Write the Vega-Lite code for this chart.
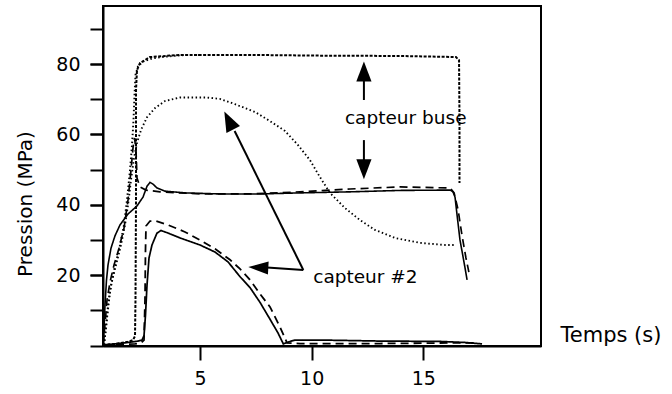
{
  "$schema": "https://vega.github.io/schema/vega-lite/v6.json",
  "width": 438,
  "height": 340,
  "autosize": {"type": "none"},
  "padding": {"left": 103, "top": 6, "right": 131, "bottom": 48},
  "background": "white",
  "config": {
    "font": "DejaVu Sans",
    "view": {"stroke": "black", "strokeWidth": 2},
    "axis": {"grid": false, "domainColor": "black", "domainWidth": 2, "tickColor": "black", "tickWidth": 2, "labelColor": "black", "titleColor": "black", "labelFontSize": 19, "titleFontSize": 20, "titleFontWeight": "normal", "labelFlush": false, "labelOverlap": false}
  },
  "resolve": {"axis": {"y": "independent"}},
  "datasets": {
    "curves": [
      {"s":"buse_trait","o":1,"t":0.656,"p":0.2},{"s":"buse_trait","o":2,"t":0.70,"p":4.5},{"s":"buse_trait","o":3,"t":0.746,"p":11.6},{"s":"buse_trait","o":4,"t":0.813,"p":18.7},{"s":"buse_trait","o":5,"t":0.88,"p":22.9},{"s":"buse_trait","o":6,"t":1.014,"p":27.7},{"s":"buse_trait","o":7,"t":1.193,"p":31.2},{"s":"buse_trait","o":8,"t":1.417,"p":34.3},{"s":"buse_trait","o":9,"t":1.776,"p":37.4},{"s":"buse_trait","o":10,"t":2.179,"p":39.7},{"s":"buse_trait","o":11,"t":2.447,"p":42.2},{"s":"buse_trait","o":12,"t":2.627,"p":45.3},{"s":"buse_trait","o":13,"t":2.761,"p":46.4},{"s":"buse_trait","o":14,"t":2.895,"p":45.9},{"s":"buse_trait","o":15,"t":3.074,"p":44.8},{"s":"buse_trait","o":16,"t":3.432,"p":43.9},{"s":"buse_trait","o":17,"t":4.328,"p":43.4},{"s":"buse_trait","o":18,"t":5.895,"p":43.1},{"s":"buse_trait","o":19,"t":7.686,"p":43.1},{"s":"buse_trait","o":20,"t":9.478,"p":43.4},{"s":"buse_trait","o":21,"t":11.72,"p":43.7},{"s":"buse_trait","o":22,"t":13.96,"p":44.1},{"s":"buse_trait","o":23,"t":16.2,"p":44.2},{"s":"buse_trait","o":24,"t":16.33,"p":43.7},{"s":"buse_trait","o":25,"t":16.42,"p":42.2},{"s":"buse_trait","o":26,"t":16.51,"p":37.2},{"s":"buse_trait","o":27,"t":16.64,"p":30.1},{"s":"buse_trait","o":28,"t":16.82,"p":23.8},{"s":"buse_trait","o":29,"t":16.96,"p":18.7},

      {"s":"buse_tirets","o":1,"t":0.656,"p":0.2},{"s":"buse_tirets","o":2,"t":0.746,"p":5.9},{"s":"buse_tirets","o":3,"t":0.836,"p":13.0},{"s":"buse_tirets","o":4,"t":0.97,"p":18.1},{"s":"buse_tirets","o":5,"t":1.149,"p":22.9},{"s":"buse_tirets","o":6,"t":1.373,"p":27.7},{"s":"buse_tirets","o":7,"t":1.597,"p":33.4},{"s":"buse_tirets","o":8,"t":1.776,"p":41.4},{"s":"buse_tirets","o":9,"t":1.911,"p":49.9},{"s":"buse_tirets","o":10,"t":2.0,"p":56.2},{"s":"buse_tirets","o":11,"t":2.067,"p":59.0},{"s":"buse_tirets","o":12,"t":2.134,"p":55.6},{"s":"buse_tirets","o":13,"t":2.179,"p":47.6},{"s":"buse_tirets","o":14,"t":2.313,"p":45.1},{"s":"buse_tirets","o":15,"t":2.582,"p":44.2},{"s":"buse_tirets","o":16,"t":3.209,"p":43.7},{"s":"buse_tirets","o":17,"t":5.0,"p":43.1},{"s":"buse_tirets","o":18,"t":7.24,"p":43.1},{"s":"buse_tirets","o":19,"t":9.478,"p":43.7},{"s":"buse_tirets","o":20,"t":11.72,"p":44.5},{"s":"buse_tirets","o":21,"t":13.96,"p":45.1},{"s":"buse_tirets","o":22,"t":16.2,"p":44.8},{"s":"buse_tirets","o":23,"t":16.38,"p":43.4},{"s":"buse_tirets","o":24,"t":16.56,"p":38.5},{"s":"buse_tirets","o":25,"t":16.73,"p":31.4},{"s":"buse_tirets","o":26,"t":16.91,"p":24.9},{"s":"buse_tirets","o":27,"t":17.04,"p":20.9},

      {"s":"c2_trait","o":1,"t":0.656,"p":0.2},{"s":"c2_trait","o":2,"t":1.193,"p":0.5},{"s":"c2_trait","o":3,"t":1.776,"p":0.9},{"s":"c2_trait","o":4,"t":2.224,"p":1.3},{"s":"c2_trait","o":5,"t":2.403,"p":1.6},{"s":"c2_trait","o":6,"t":2.492,"p":2.8},{"s":"c2_trait","o":7,"t":2.559,"p":8.7},{"s":"c2_trait","o":8,"t":2.627,"p":17.2},{"s":"c2_trait","o":9,"t":2.716,"p":24.9},{"s":"c2_trait","o":10,"t":2.85,"p":28.6},{"s":"c2_trait","o":11,"t":3.074,"p":32.0},{"s":"c2_trait","o":12,"t":3.253,"p":32.7},{"s":"c2_trait","o":13,"t":3.567,"p":32.0},{"s":"c2_trait","o":14,"t":4.104,"p":30.6},{"s":"c2_trait","o":15,"t":5.0,"p":28.6},{"s":"c2_trait","o":16,"t":5.672,"p":26.6},{"s":"c2_trait","o":17,"t":6.254,"p":23.8},{"s":"c2_trait","o":18,"t":6.791,"p":19.6},{"s":"c2_trait","o":19,"t":7.239,"p":16.5},{"s":"c2_trait","o":20,"t":7.687,"p":12.3},{"s":"c2_trait","o":21,"t":8.135,"p":7.5},{"s":"c2_trait","o":22,"t":8.493,"p":3.6},{"s":"c2_trait","o":23,"t":8.73,"p":0.5},{"s":"c2_trait","o":24,"t":8.985,"p":1.1},{"s":"c2_trait","o":25,"t":9.254,"p":1.6},{"s":"c2_trait","o":26,"t":10.37,"p":1.6},{"s":"c2_trait","o":27,"t":13.06,"p":1.3},{"s":"c2_trait","o":28,"t":15.75,"p":1.2},{"s":"c2_trait","o":29,"t":16.86,"p":0.9},{"s":"c2_trait","o":30,"t":17.63,"p":0.5},

      {"s":"c2_tirets","o":1,"t":0.656,"p":0.2},{"s":"c2_tirets","o":2,"t":1.417,"p":0.3},{"s":"c2_tirets","o":3,"t":2.089,"p":0.5},{"s":"c2_tirets","o":4,"t":2.358,"p":0.8},{"s":"c2_tirets","o":5,"t":2.492,"p":1.6},{"s":"c2_tirets","o":6,"t":2.537,"p":13.0},{"s":"c2_tirets","o":7,"t":2.559,"p":27.2},{"s":"c2_tirets","o":8,"t":2.582,"p":34.0},{"s":"c2_tirets","o":9,"t":2.761,"p":35.4},{"s":"c2_tirets","o":10,"t":3.029,"p":35.4},{"s":"c2_tirets","o":11,"t":3.567,"p":34.3},{"s":"c2_tirets","o":12,"t":4.328,"p":32.3},{"s":"c2_tirets","o":13,"t":5.0,"p":30.0},{"s":"c2_tirets","o":14,"t":5.672,"p":27.5},{"s":"c2_tirets","o":15,"t":6.344,"p":24.4},{"s":"c2_tirets","o":16,"t":6.791,"p":21.8},{"s":"c2_tirets","o":17,"t":7.239,"p":18.7},{"s":"c2_tirets","o":18,"t":7.687,"p":14.7},{"s":"c2_tirets","o":19,"t":8.135,"p":11.0},{"s":"c2_tirets","o":20,"t":8.582,"p":5.3},{"s":"c2_tirets","o":21,"t":8.896,"p":0.8},{"s":"c2_tirets","o":22,"t":9.478,"p":0.6},{"s":"c2_tirets","o":23,"t":13.06,"p":0.6},{"s":"c2_tirets","o":24,"t":16.64,"p":0.8},{"s":"c2_tirets","o":25,"t":17.31,"p":0.8},

      {"s":"c2_points","o":1,"t":0.701,"p":0.2},{"s":"c2_points","o":2,"t":0.79,"p":5.0},{"s":"c2_points","o":3,"t":0.88,"p":11.6},{"s":"c2_points","o":4,"t":1.014,"p":17.2},{"s":"c2_points","o":5,"t":1.238,"p":22.9},{"s":"c2_points","o":6,"t":1.462,"p":28.6},{"s":"c2_points","o":7,"t":1.641,"p":34.3},{"s":"c2_points","o":8,"t":1.776,"p":39.9},{"s":"c2_points","o":9,"t":1.911,"p":47.1},{"s":"c2_points","o":10,"t":2.045,"p":53.3},{"s":"c2_points","o":11,"t":2.179,"p":57.6},{"s":"c2_points","o":12,"t":2.358,"p":61.3},{"s":"c2_points","o":13,"t":2.627,"p":64.9},{"s":"c2_points","o":14,"t":2.985,"p":67.5},{"s":"c2_points","o":15,"t":3.432,"p":69.5},{"s":"c2_points","o":16,"t":4.104,"p":70.5},{"s":"c2_points","o":17,"t":5.313,"p":70.5},{"s":"c2_points","o":18,"t":5.895,"p":70.1},{"s":"c2_points","o":19,"t":6.567,"p":68.6},{"s":"c2_points","o":20,"t":7.462,"p":66.4},{"s":"c2_points","o":21,"t":8.134,"p":63.8},{"s":"c2_points","o":22,"t":8.806,"p":61.0},{"s":"c2_points","o":23,"t":9.388,"p":57.0},{"s":"c2_points","o":24,"t":9.925,"p":52.7},{"s":"c2_points","o":25,"t":10.37,"p":47.9},{"s":"c2_points","o":26,"t":10.82,"p":43.4},{"s":"c2_points","o":27,"t":11.49,"p":39.1},{"s":"c2_points","o":28,"t":12.16,"p":35.7},{"s":"c2_points","o":29,"t":12.83,"p":32.9},{"s":"c2_points","o":30,"t":13.73,"p":30.6},{"s":"c2_points","o":31,"t":14.85,"p":29.2},{"s":"c2_points","o":32,"t":15.97,"p":28.6},{"s":"c2_points","o":33,"t":16.46,"p":28.6},

      {"s":"buse_points","o":1,"t":0.701,"p":0.2},{"s":"buse_points","o":2,"t":0.836,"p":7.9},{"s":"buse_points","o":3,"t":0.97,"p":15.3},{"s":"buse_points","o":4,"t":1.149,"p":21.5},{"s":"buse_points","o":5,"t":1.373,"p":27.2},{"s":"buse_points","o":6,"t":1.597,"p":34.3},{"s":"buse_points","o":7,"t":1.731,"p":41.4},{"s":"buse_points","o":8,"t":1.866,"p":49.9},{"s":"buse_points","o":9,"t":1.955,"p":57.0},{"s":"buse_points","o":10,"t":2.022,"p":64.1},{"s":"buse_points","o":11,"t":2.067,"p":71.2},{"s":"buse_points","o":12,"t":2.111,"p":76.9},{"s":"buse_points","o":13,"t":2.224,"p":79.4},{"s":"buse_points","o":14,"t":2.447,"p":80.7},{"s":"buse_points","o":15,"t":2.85,"p":81.6},{"s":"buse_points","o":16,"t":3.432,"p":82.1},{"s":"buse_points","o":17,"t":4.328,"p":82.6},{"s":"buse_points","o":18,"t":5.0,"p":82.6},

      {"s":"buse_carres","o":1,"t":0.656,"p":0.2},{"s":"buse_carres","o":2,"t":1.193,"p":0.5},{"s":"buse_carres","o":3,"t":1.776,"p":1.1},{"s":"buse_carres","o":4,"t":2.0,"p":1.6},{"s":"buse_carres","o":5,"t":2.089,"p":2.7},{"s":"buse_carres","o":6,"t":2.111,"p":13.0},{"s":"buse_carres","o":7,"t":2.134,"p":41.4},{"s":"buse_carres","o":8,"t":2.134,"p":72.6},{"s":"buse_carres","o":9,"t":2.179,"p":78.3},{"s":"buse_carres","o":10,"t":2.313,"p":80.3},{"s":"buse_carres","o":11,"t":2.761,"p":82.0},{"s":"buse_carres","o":12,"t":4.104,"p":82.6},{"s":"buse_carres","o":13,"t":7.24,"p":82.6},{"s":"buse_carres","o":14,"t":10.37,"p":82.4},{"s":"buse_carres","o":15,"t":13.96,"p":82.3},{"s":"buse_carres","o":16,"t":16.46,"p":82.0},{"s":"buse_carres","o":17,"t":16.6,"p":81.1},{"s":"buse_carres","o":18,"t":16.62,"p":64.1},{"s":"buse_carres","o":19,"t":16.62,"p":46.2}
    ],
    "shafts": [
      {"a":"buse_haut","t":12.34,"p":69.8,"t2":12.34,"p2":76.0},
      {"a":"buse_bas","t":12.34,"p":58.4,"t2":12.34,"p2":52.0},
      {"a":"c2_gauche","t":9.626,"p":21.5,"t2":8.0,"p2":22.2},
      {"a":"c2_haut","t":9.626,"p":21.5,"t2":6.55,"p2":61.0}
    ],
    "heads": [
      {"a":"buse_haut","t":12.34,"p":80.7},
      {"a":"buse_bas","t":12.34,"p":47.3},
      {"a":"c2_gauche","t":7.163,"p":22.35},
      {"a":"c2_haut","t":6.088,"p":66.5}
    ],
    "labels": [
      {"txt":"capteur buse","t":11.49,"p":62.97},
      {"txt":"capteur #2","t":10.07,"p":17.67}
    ]
  },
  "layer": [
    {
      "data": {"name": "curves"},
      "mark": {"type": "line", "color": "black", "strokeCap": "butt"},
      "encoding": {
        "x": {"field": "t", "type": "quantitative",
              "scale": {"domain": [0.656, 20.27], "nice": false, "zero": false},
              "axis": {"values": [5, 10, 15], "title": "Temps (s)", "titleFontSize": 21, "titleX": 457, "titleY": -11, "titleAlign": "left", "titleAnchor": "start", "titleBaseline": "middle", "tickSize": 14, "labelPadding": 9}},
        "y": {"field": "p", "type": "quantitative",
              "scale": {"domain": [-0.1, 96.5], "nice": false, "zero": false},
              "axis": {"orient": "left", "values": [20, 40, 60, 80],
                       "title": "Pression (MPa)", "titleX": -78, "titleY": 197.5, "titleAngle": -90, "titleAlign": "center", "titleBaseline": "middle", "tickSize": 13, "labelPadding": 10}},
        "detail": {"field": "s", "type": "nominal"},
        "order": {"field": "o", "type": "quantitative"},
        "strokeDash": {"field": "s", "type": "nominal", "legend": null,
          "scale": {"domain": ["buse_trait", "buse_tirets", "c2_trait", "c2_tirets", "c2_points", "buse_points", "buse_carres"],
                    "range": [[1, 0], [8, 5], [1, 0], [8, 5], [1.5, 2.5], [1.5, 2.5], [3, 1.5]]}},
        "strokeWidth": {"field": "s", "type": "nominal", "legend": null,
          "scale": {"domain": ["buse_trait", "buse_tirets", "c2_trait", "c2_tirets", "c2_points", "buse_points", "buse_carres"],
                    "range": [1.6, 2, 1.6, 2, 1.7, 1.7, 2.8]}}
      }
    },
    {
      "data": {"name": "labels"},
      "mark": {"type": "point", "opacity": 0},
      "encoding": {
        "x": {"field": "t", "type": "quantitative"},
        "y": {"field": "p", "type": "quantitative",
              "axis": {"orient": "left", "values": [0, 10, 20, 30, 40, 50, 60, 70, 80, 90], "labels": false, "domain": false, "title": null, "tickSize": 13}}
      }
    },
    {
      "data": {"name": "shafts"},
      "mark": {"type": "rule", "color": "black", "strokeWidth": 2},
      "encoding": {
        "x": {"field": "t", "type": "quantitative"},
        "y": {"field": "p", "type": "quantitative", "axis": null},
        "x2": {"field": "t2"},
        "y2": {"field": "p2"}
      }
    },
    {
      "data": {"name": "heads"},
      "transform": [{"filter": "datum.a == 'buse_haut'"}],
      "mark": {"type": "point", "filled": true, "color": "black", "opacity": 1, "strokeWidth": 0, "size": 1600, "shape": "M0,0L-0.38,1L0.38,1Z", "angle": 0},
      "encoding": {"x": {"field": "t", "type": "quantitative"}, "y": {"field": "p", "type": "quantitative", "axis": null}}
    },
    {
      "data": {"name": "heads"},
      "transform": [{"filter": "datum.a == 'buse_bas'"}],
      "mark": {"type": "point", "filled": true, "color": "black", "opacity": 1, "strokeWidth": 0, "size": 1600, "shape": "M0,0L-0.38,1L0.38,1Z", "angle": 180},
      "encoding": {"x": {"field": "t", "type": "quantitative"}, "y": {"field": "p", "type": "quantitative", "axis": null}}
    },
    {
      "data": {"name": "heads"},
      "transform": [{"filter": "datum.a == 'c2_gauche'"}],
      "mark": {"type": "point", "filled": true, "color": "black", "opacity": 1, "strokeWidth": 0, "size": 1600, "shape": "M0,0L-0.33,1L0.33,1Z", "angle": 273},
      "encoding": {"x": {"field": "t", "type": "quantitative"}, "y": {"field": "p", "type": "quantitative", "axis": null}}
    },
    {
      "data": {"name": "heads"},
      "transform": [{"filter": "datum.a == 'c2_haut'"}],
      "mark": {"type": "point", "filled": true, "color": "black", "opacity": 1, "strokeWidth": 0, "size": 1600, "shape": "M0,0L-0.38,1L0.38,1Z", "angle": 333.5},
      "encoding": {"x": {"field": "t", "type": "quantitative"}, "y": {"field": "p", "type": "quantitative", "axis": null}}
    },
    {
      "data": {"name": "labels"},
      "mark": {"type": "text", "align": "left", "baseline": "alphabetic", "fontSize": 18.5, "color": "black"},
      "encoding": {
        "x": {"field": "t", "type": "quantitative"},
        "y": {"field": "p", "type": "quantitative", "axis": null},
        "text": {"field": "txt"}
      }
    }
  ]
}
